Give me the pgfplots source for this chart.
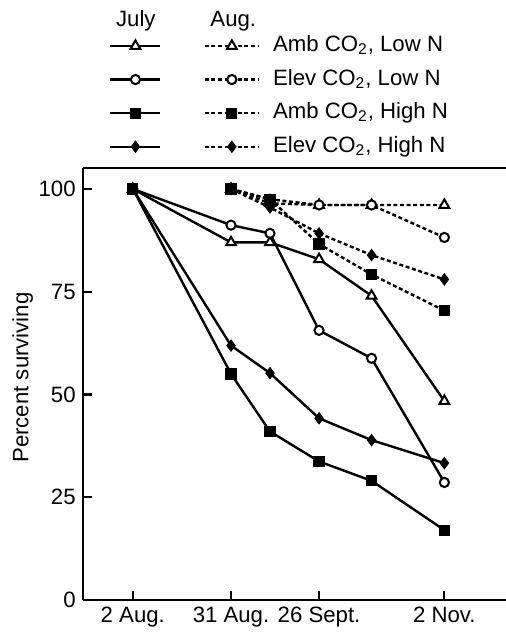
\documentclass[border=0pt]{standalone}
\usepackage{fontspec}
\setmainfont{Liberation Sans}
\usepackage{pgfplots}
\pgfplotsset{compat=1.18}

\pgfplotsset{
  jul/.style={line width=1.2pt, black,
    legend image code/.code={\draw[mark repeat=2, mark phase=2, ##1] plot coordinates {(0pt,0pt) (12.5pt,0pt) (25pt,0pt)};}},
  aug/.style={line width=1.2pt, black, dash pattern=on 2pt off 1.3pt,
    legend image code/.code={\draw[mark repeat=2, mark phase=2, ##1] plot coordinates {(0pt,0pt) (13.5pt,0pt) (27pt,0pt)};}},
  tri/.style={mark=triangle*, mark size=2.8pt, mark options={solid, line width=1pt, fill=white}},
  circ/.style={mark=*, mark size=2.3pt, mark options={solid, line width=1pt, fill=white}},
  sq/.style={mark=square*, mark size=2.5pt, mark options={solid, line width=0.6pt, fill=black}},
  dia/.style={mark=diamond*, mark size=2.7pt, mark options={solid, line width=0.6pt, fill=black}},
}

\begin{document}
\begin{tikzpicture}[font=\fontsize{11.1}{13}\selectfont]
\useasboundingbox (-41.35pt,-16pt) rectangle (211.65pt,300pt);
\begin{axis}[
  scale only axis, width=211.65pt, height=216pt,
  xmin=-14.8, xmax=110.2, ymin=0, ymax=105.1,
  axis x line=box, axis y line=left,
  axis line style={-, line width=1.1pt},
  tick align=inside, xtick pos=left, ytick pos=left,
  major tick length=4.5pt, tick style={line width=1.1pt, black},
  xtick={0,29,55,92}, xticklabels={2 Aug., 31 Aug., 26 Sept., 2 Nov.},
  ytick={0,25,50,75,100},
  /pgf/number format/assume math mode=true,
  ylabel={Percent surviving},
  ylabel style={at={(axis description cs:-0.142,0.515)}, anchor=center},
  legend columns=2, legend cell align=left,
  legend style={at={(axis description cs:0.0618,1.317)}, anchor=north west,
    draw=none, fill=none, inner sep=0pt, row sep=2.3pt, column sep=0pt,
    nodes={inner sep=2pt, text height=8pt, text depth=2.5pt},
    /tikz/every odd column/.append style={column sep=4.5pt},
    /tikz/every even column/.append style={column sep=12.5pt}},
]
\addplot[jul, tri] coordinates {(0,100) (29,87.0) (40.5,87.0) (55,82.9) (70.5,74.0) (92,48.4)};
\addlegendentry{}
\addplot[aug, tri] coordinates {(29,100) (40.5,96.5) (55,96.1) (70.5,96.1) (92,96.1)};
\addlegendentry{Amb CO\textsubscript{2}, Low N}
\addplot[jul, circ] coordinates {(0,100) (29,91.2) (40.5,89.2) (55,65.6) (70.5,58.8) (92,28.6)};
\addlegendentry{}
\addplot[aug, circ] coordinates {(29,100) (40.5,97.5) (55,96.1) (70.5,96.1) (92,88.2)};
\addlegendentry{Elev CO\textsubscript{2}, Low N}
\addplot[jul, sq] coordinates {(0,100) (29,55.0) (40.5,41.0) (55,33.7) (70.5,29.0) (92,17.0)};
\addlegendentry{}
\addplot[aug, sq] coordinates {(29,100) (40.5,97.5) (55,86.6) (70.5,79.2) (92,70.4)};
\addlegendentry{Amb CO\textsubscript{2}, High N}
\addplot[jul, dia] coordinates {(0,100) (29,61.9) (40.5,55.2) (55,44.2) (70.5,38.9) (92,33.3)};
\addlegendentry{}
\addplot[aug, dia] coordinates {(29,100) (40.5,95.5) (55,89.2) (70.5,83.9) (92,78.0)};
\addlegendentry{Elev CO\textsubscript{2}, High N}
\end{axis}
\node[anchor=base] at (26.55pt,286.6pt) {July};
\node[anchor=base] at (75.3pt,286.6pt) {Aug.};
\end{tikzpicture}
\end{document}
